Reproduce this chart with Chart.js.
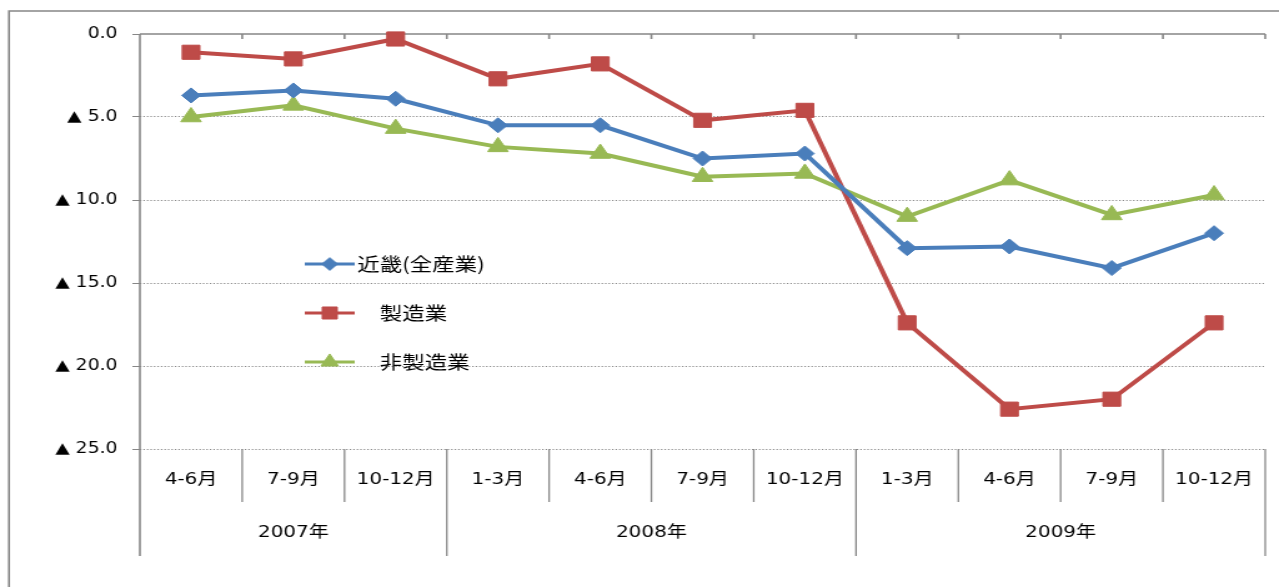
<!DOCTYPE html>
<html>
<head>
<meta charset="utf-8">
<script src="https://cdn.jsdelivr.net/npm/chart.js@4.4.0/dist/chart.umd.min.js"></script>
<style>
  html, body { margin: 0; padding: 0; background: #fff; overflow: hidden; }
  #wrap { width: 1024px; height: 587px; transform: scaleX(1.249); transform-origin: 0 0; }
</style>
</head>
<body>
<div id="wrap"><canvas id="chart"></canvas></div>
<script>
const quarters = ['4-6月', '7-9月', '10-12月', '1-3月', '4-6月', '7-9月', '10-12月', '1-3月', '4-6月', '7-9月', '10-12月'];
const years = ['2007年', '2008年', '2009年'];
const yearSpans = [3, 4, 4];

const seriesNames = ['近畿(全産業)', '　製造業', '　非製造業'];
const kinki    = [-3.7, -3.4, -3.9, -5.5, -5.5, -7.5, -7.2, -12.9, -12.8, -14.1, -12.0];
const seizo    = [-1.1, -1.5, -0.3, -2.7, -1.8, -5.2, -4.6, -17.4, -22.6, -22.0, -17.4];
const hiseizo  = [-5.0, -4.3, -5.7, -6.8, -7.2, -8.6, -8.4, -11.0, -8.8, -10.9, -9.7];

const AXIS = '#878787';
const TEXT_FONT = "'DejaVu Sans', 'Noto Sans CJK JP', sans-serif";

function fmtTick(v) {
  if (v === 0) return '0.0';
  return '▲ ' + Math.abs(v).toFixed(1);
}

function drawMarker(ctx, style, r, x, y, color) {
  if (Chart.helpers && Chart.helpers.drawPoint) {
    ctx.fillStyle = color;
    ctx.strokeStyle = color;
    ctx.lineWidth = 1;
    Chart.helpers.drawPoint(ctx, { pointStyle: style, radius: r, borderWidth: 1, rotation: 0 }, x, y);
  }
}

const frame = {
  id: 'frame',
  beforeDatasetsDraw(chart) {
    const { ctx, chartArea: a, scales: { x } } = chart;
    const step = x.getPixelForValue(1) - x.getPixelForValue(0);
    ctx.save();
    ctx.strokeStyle = AXIS;
    ctx.lineWidth = 1.6;

    // outer frame
    ctx.beginPath();
    ctx.moveTo(7.2, 587);
    ctx.lineTo(7.2, 11);
    ctx.lineTo(1024, 11);
    ctx.stroke();

    // axis line on top with tick marks
    ctx.beginPath();
    ctx.moveTo(a.left, a.top);
    ctx.lineTo(a.right, a.top);
    ctx.moveTo(a.left, a.top);
    ctx.lineTo(a.left, 556);
    for (let i = 1; i <= quarters.length; i++) {
      const bx = x.getPixelForValue(0) - step / 2 + step * i;
      ctx.moveTo(bx, a.top);
      ctx.lineTo(bx, a.top + 5);
    }
    ctx.stroke();

    // separators under the plot
    ctx.lineWidth = 1.3;
    let idx = 0;
    const yearEnds = yearSpans.map(n => (idx += n));
    ctx.beginPath();
    for (let i = 1; i <= quarters.length; i++) {
      const bx = x.getPixelForValue(0) - step / 2 + step * i;
      ctx.moveTo(bx, a.bottom);
      ctx.lineTo(bx, yearEnds.includes(i) ? 556 : 502);
    }
    ctx.stroke();

    // quarter labels
    ctx.fillStyle = '#000';
    ctx.font = '16px ' + TEXT_FONT;
    ctx.textAlign = 'center';
    ctx.textBaseline = 'middle';
    quarters.forEach((q, i) => ctx.fillText(q, x.getPixelForValue(i), 480));

    // year labels
    let start = 0;
    years.forEach((yr, i) => {
      const end = start + yearSpans[i] - 1;
      const cx = (x.getPixelForValue(start) + x.getPixelForValue(end)) / 2;
      ctx.fillText(yr, cx, 533);
      start = end + 1;
    });
    ctx.restore();
  },
  afterDraw(chart) {
    const { ctx } = chart;
    const rows = [264, 313, 362];
    ctx.save();
    chart.data.datasets.forEach((ds, i) => {
      const y = rows[i];
      ctx.strokeStyle = ds.borderColor;
      ctx.lineWidth = 3;
      ctx.beginPath();
      ctx.moveTo(244, y);
      ctx.lineTo(284, y);
      ctx.stroke();
      drawMarker(ctx, ds.pointStyle, ds.pointRadius * 0.85, 264, y, ds.borderColor);
      ctx.fillStyle = '#000';
      ctx.font = "18px 'Noto Sans CJK JP', sans-serif";
      ctx.textAlign = 'left';
      ctx.textBaseline = 'middle';
      ctx.fillText(ds.label, 286, y);
    });
    ctx.restore();
  }
};

new Chart(document.getElementById('chart'), {
  type: 'line',
  data: {
    labels: quarters,
    datasets: [
      {
        label: seriesNames[0], data: kinki,
        borderColor: '#4A7EBB', backgroundColor: '#4A7EBB',
        pointStyle: 'rectRot', pointRadius: 7.5,
      },
      {
        label: seriesNames[1], data: seizo,
        borderColor: '#BE4B48', backgroundColor: '#BE4B48',
        pointStyle: 'rect', pointRadius: 10,
      },
      {
        label: seriesNames[2], data: hiseizo,
        borderColor: '#98B954', backgroundColor: '#98B954',
        pointStyle: 'triangle', pointRadius: 9.5,
      }
    ].map(d => Object.assign(d, {
      borderWidth: 4,
      pointBorderColor: d.borderColor,
      pointBorderWidth: 1,
      pointHoverRadius: d.pointRadius,
      tension: 0,
      clip: false
    }))
  },
  options: {
    responsive: true,
    maintainAspectRatio: false,
    animation: false,
    events: [],
    layout: { padding: { top: 34, bottom: 138, left: 0, right: 7 } },
    plugins: {
      legend: { display: false },
      tooltip: { enabled: false }
    },
    scales: {
      x: {
        display: false,
        offset: true
      },
      y: {
        min: -25,
        max: 0,
        afterFit: s => { s.width = 112; },
        ticks: {
          stepSize: 5,
          padding: 12,
          color: '#000',
          font: { family: "'DejaVu Sans', sans-serif", size: 15 },
          callback: v => fmtTick(v)
        },
        grid: {
          color: c => (c.tick && c.tick.value === 0) ? 'rgba(0,0,0,0)' : '#8a8a8a',
          tickColor: AXIS,
          tickLength: 6,
          tickBorderDash: [],
          lineWidth: 1
        },
        border: { display: false, dash: [1.2, 1.6] }
      }
    }
  },
  plugins: [frame]
});
</script>
</body>
</html>
